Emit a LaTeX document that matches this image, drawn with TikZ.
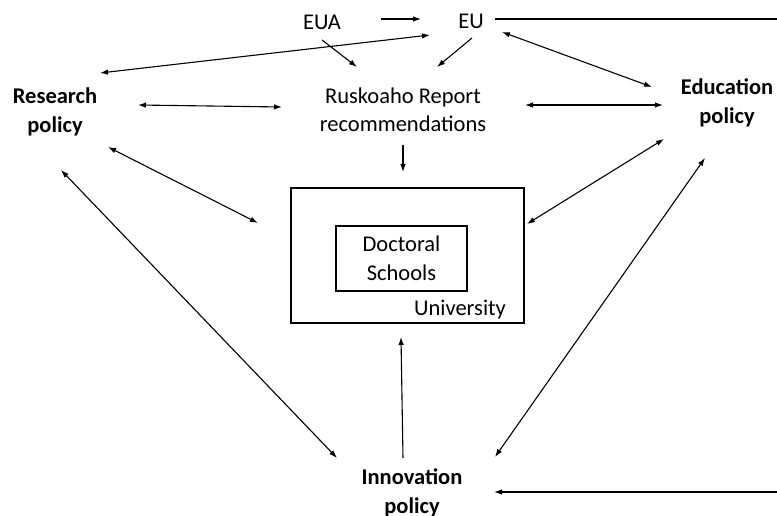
\documentclass[tikz,border=0pt]{standalone}
\usepackage{fontspec}
\setmainfont{Carlito}
\usetikzlibrary{calc,arrows.meta}
\begin{document}
\begin{tikzpicture}[x=1pt,y=-1pt,
  lbl/.style={inner sep=0pt,align=center,font=\fontsize{22.5}{28.5}\selectfont},
  pol/.style={inner sep=0pt,align=center,font=\fontsize{22.5}{28.5}\selectfont\bfseries},
  box/.style={draw,line width=1.2pt,inner sep=0pt},
  conn/.style={line width=1.1pt},
  tip/.style={conn,-{Latex[length=8pt,width=5.5pt]}},
  bi/.style={conn,{Latex[length=8pt,width=5.5pt]}-{Latex[length=8pt,width=5.5pt]}}]
\useasboundingbox (0,0) rectangle (777,516);
% nodes
\node[lbl] (eua) at (322,22) {EUA};
\node[lbl] (eu) at (471,21) {EU};
\node[pol] (rp) at (55,112) {Research\\policy};
\node[pol] (ep) at (727,103) {Education\\policy};
\node[lbl] (rr) at (403,110) {Ruskoaho Report\\recommendations};
\node[pol] (ip) at (412,493) {Innovation\\policy};
\node[box,minimum width=233pt,minimum height=135pt] (uni) at (407.5,255.5) {};
\node[box,align=center,font=\fontsize{22.5}{28.5}\selectfont,minimum width=131pt,minimum height=65pt] (ds) at (401.5,258.5) {Doctoral\\Schools};
\node[lbl] (unil) at (460,310) {University};
\coordinate (eR) at (777,19);
\coordinate (iR) at (777,492);
% connectors
\draw[tip] ($(eua)+(59,-3)$) -- ($(eu)+(-50,-2)$);
\draw[conn] ($(eu)+(24,-2)$) -- (eR);
\draw[bi] ($(rp)+(45,-39)$) -- ($(eu)+(-41,14)$);
\draw[tip] ($(eua)+(0,18)$) -- ($(rr)+(-46,-43)$);
\draw[tip] ($(eu)+(1,17)$) -- ($(rr)+(34,-43)$);
\draw[bi] ($(eu)+(31,11)$) -- ($(ep)+(-75,-16)$);
\draw[bi] ($(rr)+(122,-5)$) -- ($(ep)+(-64,2)$);
\draw[bi] ($(rp)+(83,-7)$) -- ($(rr)+(-121,-3)$);
\draw[bi] ($(rp)+(53,35)$) -- ($(uni)+(-149.5,-32.5)$);
\draw[bi] ($(rp)+(6,58)$) -- ($(ip)+(-75,-35)$);
\draw[tip] ($(rr)+(0,35)$) -- ($(uni)+(-4.5,-83.5)$);
\draw[tip] ($(ip)+(-9,-35)$) -- ($(uni)+(-6.5,81.5)$);
\draw[bi] ($(ep)+(-63,36)$) -- ($(uni)+(119.5,-31.5)$);
\draw[bi] ($(ep)+(-22,55)$) -- ($(ip)+(83,-36)$);
\draw[tip] (iR) -- ($(ip)+(82,-1)$);
\end{tikzpicture}
\end{document}
